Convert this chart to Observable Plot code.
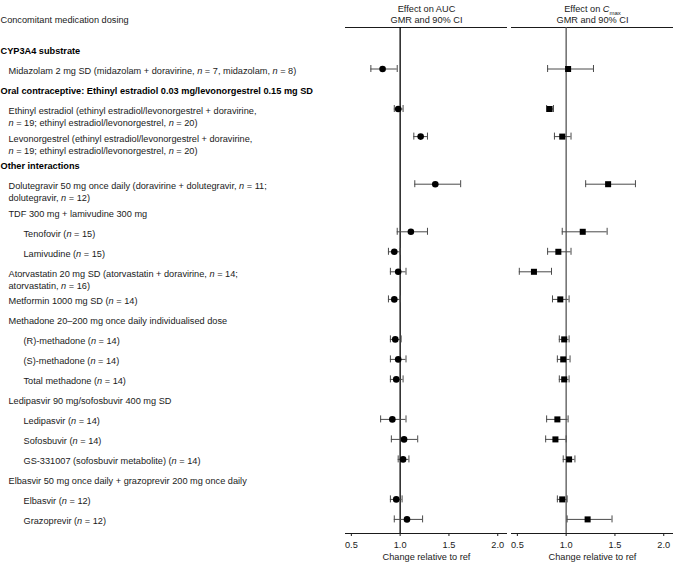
<!DOCTYPE html>
<html>
<head>
<meta charset="utf-8">
<script src="https://cdn.jsdelivr.net/npm/d3@7"></script>
<script src="https://cdn.jsdelivr.net/npm/@observablehq/plot@0.6"></script>
<style>
  body { margin: 0; background: #fff; }
  #chart { display: flex; width: 673px; height: 565px; }
  #chart svg { overflow: visible; }
</style>
</head>
<body>
<div id="chart"></div>
<script>
// ---------- data ----------
const columnTitle = "Concomitant medication dosing";
const axisTitle = "Change relative to ref";
const aucTitle = "Effect on AUC";
const cmaxTitle = "Effect on Cmax";
const subTitle = "GMR and 90% CI";

const labels = [
  "CYP3A4 substrate",
  "Midazolam 2 mg SD (midazolam + doravirine, n = 7, midazolam, n = 8)",
  "Oral contraceptive: Ethinyl estradiol 0.03 mg/levonorgestrel 0.15 mg SD",
  "Ethinyl estradiol (ethinyl estradiol/levonorgestrel + doravirine,\nn = 19; ethinyl estradiol/levonorgestrel, n = 20)",
  "Levonorgestrel (ethinyl estradiol/levonorgestrel + doravirine,\nn = 19; ethinyl estradiol/levonorgestrel, n = 20)",
  "Other interactions",
  "Dolutegravir 50 mg once daily (doravirine + dolutegravir, n = 11;\ndolutegravir, n = 12)",
  "TDF 300 mg + lamivudine 300 mg",
  "Tenofovir (n = 15)",
  "Lamivudine (n = 15)",
  "Atorvastatin 20 mg SD (atorvastatin + doravirine, n = 14;\natorvastatin, n = 16)",
  "Metformin 1000 mg SD (n = 14)",
  "Methadone 20–200 mg once daily individualised dose",
  "(R)-methadone (n = 14)",
  "(S)-methadone (n = 14)",
  "Total methadone (n = 14)",
  "Ledipasvir 90 mg/sofosbuvir 400 mg SD",
  "Ledipasvir (n = 14)",
  "Sofosbuvir (n = 14)",
  "GS-331007 (sofosbuvir metabolite) (n = 14)",
  "Elbasvir 50 mg once daily + grazoprevir 200 mg once daily",
  "Elbasvir (n = 12)",
  "Grazoprevir (n = 12)"
];
// 0 = bold group header, 1 = item, 2 = sub-item
const levels = [0,1,0,1,1,0,1,1,2,2,1,1,1,2,2,2,1,2,2,2,1,2,2];

const aucGMR = [null,0.82,null,0.98,1.21,null,1.36,null,1.11,0.94,0.98,0.94,null,0.95,0.98,0.96,null,0.92,1.04,1.03,null,0.96,1.07];
const aucLo  = [null,0.70,null,0.94,1.14,null,1.15,null,0.97,0.88,0.90,0.88,null,0.90,0.90,0.90,null,0.80,0.91,0.98,null,0.90,0.94];
const aucHi  = [null,0.97,null,1.03,1.28,null,1.62,null,1.28,1.00,1.06,1.00,null,1.01,1.06,1.03,null,1.06,1.18,1.09,null,1.02,1.23];

const cmaxGMR = [null,1.02,null,0.83,0.96,null,1.43,null,1.17,0.92,0.67,0.94,null,0.98,0.97,0.98,null,0.91,0.89,1.03,null,0.96,1.22];
const cmaxLo  = [null,0.81,null,0.80,0.88,null,1.20,null,0.96,0.81,0.52,0.86,null,0.93,0.91,0.93,null,0.80,0.79,0.97,null,0.91,1.01];
const cmaxHi  = [null,1.28,null,0.87,1.05,null,1.71,null,1.42,1.05,0.85,1.03,null,1.03,1.04,1.03,null,1.02,1.00,1.09,null,1.01,1.47];

const xTicks = [0.5, 1.0, 1.5, 2.0];

// ---------- build table (row slot = 1, each extra text line adds a little) ----------
const extraLine = 0.38;
let acc = 0;
const rows = labels.map((label, i) => {
  if (i > 0) acc += 1 + extraLine * (labels[i - 1].split("\n").length - 1);
  return {
    label, level: levels[i], pos: acc,
    auc: aucGMR[i], aucLo: aucLo[i], aucHi: aucHi[i],
    cmax: cmaxGMR[i], cmaxLo: cmaxLo[i], cmaxHi: cmaxHi[i]
  };
});

// ---------- layout / style ----------
const H = 565, MT = 27, MB = 32;
const yScale = {domain: [-1.075, 24.225], reverse: true, axis: null};
const xScale = {domain: [0.44, 2.1], ticks: xTicks, tickFormat: d3.format(".1f"), tickSize: 3, tickPadding: 5, label: null};
const font = "'Liberation Sans', Arial, Helvetica, sans-serif";
const baseStyle = {fontFamily: font, fontSize: "9.2px", color: "#1a1a1a", background: "white", overflow: "visible"};
const indent = [0, 8, 23];
const capHalf = 0.175;

const labelPlot = Plot.plot({
  width: 345, height: H, marginTop: MT, marginBottom: MB, marginLeft: 0, marginRight: 0,
  y: yScale, x: {axis: null},
  style: baseStyle,
  marks: [
    Plot.text([columnTitle], {text: d => d, frameAnchor: "top-left", textAnchor: "start", dy: -11, fill: "#1a1a1a"}),
    ...[0, 1, 2].map(lv => Plot.text(rows.filter(r => r.level === lv), {
      y: "pos", text: "label", frameAnchor: "left", textAnchor: "start",
      lineAnchor: "top", lineHeight: 1.3, dy: -3.5, dx: indent[lv],
      fontWeight: lv === 0 ? "bold" : "normal", fill: lv === 0 ? "#000" : "#1a1a1a"
    }))
  ]
});

function panel(key, title, width, marginRight, refColor, symbol, r) {
  const data = rows.filter(d => d[key] != null);
  return Plot.plot({
    width, height: H, marginTop: MT, marginBottom: MB, marginLeft: 0, marginRight,
    x: xScale, y: yScale,
    style: baseStyle,
    marks: [
      Plot.ruleY([yScale.domain[0]], {stroke: "#1a1a1a", strokeWidth: 1}),
      Plot.ruleY([yScale.domain[1]], {stroke: "#1a1a1a", strokeWidth: 1}),
      Plot.ruleX([1], {stroke: refColor, strokeWidth: 1.3}),
      Plot.ruleY(data, {y: "pos", x1: key + "Lo", x2: key + "Hi", stroke: "#4a4a4a", strokeWidth: 1}),
      Plot.ruleX(data, {x: key + "Lo", y1: d => d.pos - capHalf, y2: d => d.pos + capHalf, stroke: "#4a4a4a", strokeWidth: 1}),
      Plot.ruleX(data, {x: key + "Hi", y1: d => d.pos - capHalf, y2: d => d.pos + capHalf, stroke: "#4a4a4a", strokeWidth: 1}),
      Plot.dot(data, {x: key, y: "pos", symbol, r, fill: "#000", stroke: "none"}),
      Plot.text([title], {text: d => d, frameAnchor: "top", dy: -22, fill: "#1a1a1a"}),
      Plot.text([subTitle], {text: d => d, frameAnchor: "top", dy: -11, fill: "#1a1a1a"}),
      Plot.text([axisTitle], {text: d => d, frameAnchor: "bottom", dy: 26, fill: "#1a1a1a"})
    ]
  });
}

const aucPlot = panel("auc", aucTitle, 166, 4, "#000", "circle", 3.3);
const cmaxPlot = panel("cmax", cmaxTitle, 162, 0, "#555", "square", 3.4);

const root = document.getElementById("chart");
root.append(labelPlot, aucPlot, cmaxPlot);

// ---------- typographic touches: italic n, C with subscript max ----------
const svgNS = "http://www.w3.org/2000/svg";
function italicizeN(el) {
  const walker = document.createTreeWalker(el, NodeFilter.SHOW_TEXT);
  const nodes = [];
  while (walker.nextNode()) nodes.push(walker.currentNode);
  for (const node of nodes) {
    const parts = node.nodeValue.split(/\bn(?= = )/);
    if (parts.length < 2) continue;
    const frag = document.createDocumentFragment();
    parts.forEach((part, i) => {
      if (i > 0) {
        const t = document.createElementNS(svgNS, "tspan");
        t.setAttribute("font-style", "italic");
        t.textContent = "n";
        frag.appendChild(t);
      }
      if (part) frag.appendChild(document.createTextNode(part));
    });
    node.parentNode.replaceChild(frag, node);
  }
}
italicizeN(labelPlot);

cmaxPlot.querySelectorAll("text").forEach(t => {
  if (t.textContent === cmaxTitle) {
    t.textContent = "Effect on ";
    const c = document.createElementNS(svgNS, "tspan");
    c.setAttribute("font-style", "italic");
    c.textContent = "C";
    const m = document.createElementNS(svgNS, "tspan");
    m.setAttribute("font-size", "6px");
    m.setAttribute("dy", "2.5");
    m.textContent = "max";
    t.append(c, m);
  }
});
</script>
</body>
</html>
